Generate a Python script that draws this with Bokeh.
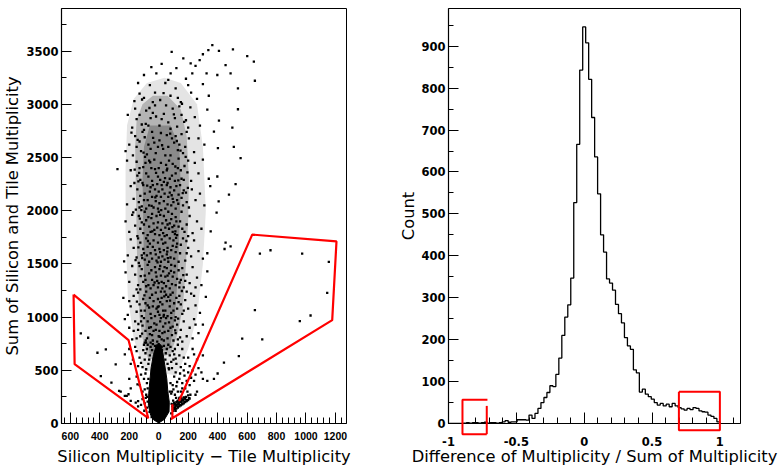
from bokeh.plotting import figure
from bokeh.layouts import row
from bokeh.models import SingleIntervalTicker, CustomJSTickFormatter, Range1d
from bokeh.embed import file_html
from bokeh.resources import INLINE
import numpy as np

# ---------------- left panel data ----------------
cloud_points = [
    # y 0-250
    (-48,60),(-62,110),(-80,150),(-95,190),(-110,230),(-75,205),(-88,240),(-98,120),(-120,175),
    (-140,210),(-190,212),(-140,160),(-156,197),(-230,260),
    (85,95),(95,130),(110,150),(120,170),(135,185),(150,200),(165,215),(180,230),(125,205),(140,228),
    (100,175),(115,120),(130,160),(145,175),(160,190),(175,205),(190,220),(205,238),(155,235),(170,245),
    (118,240),(88,185),(98,215),(92,160),(105,195),
    (100,120),(110,135),(120,140),(130,150),(140,160),(150,170),(160,180),(170,190),(180,200),(190,210),
    (200,220),(210,235),(105,150),(115,165),(125,180),(135,195),(145,205),(155,215),(165,225),(175,240),
    (120,200),(130,215),(110,185),(100,170),(95,140),(140,240),(150,250),(185,250),(200,265),(215,270),
    # y 250-500
    (-85,270),(-95,320),(-110,300),(-130,360),(-144,368),(-190,330),(-217,259),(-269,306),(-100,420),
    (-120,460),(-150,440),(-80,380),(-90,470),(-200,420),(-321,384),(-75,330),(-78,250),(-70,420),
    (85,280),(100,320),(120,350),(150,300),(180,330),(210,360),(240,400),(260,300),(300,420),(330,400),
    (375,420),(400,470),(250,270),(90,300),(110,270),(95,360),(130,300),(140,420),(160,380),(175,450),
    (190,400),(200,480),(220,430),(230,500),(160,330),(125,390),(105,440),(115,480),(145,470),(170,500),
    (250,460),(290,480),(195,300),(75,300),(80,380),(68,520),
    # y 500-750
    (-85,510),(-70,560),(-95,600),(-60,640),(-80,700),(-110,530),(-130,620),(-150,680),(-100,740),
    (-120,570),(-175,600),(-200,700),(-230,650),(-55,720),(-45,690),(-65,600),(45,600),(60,560),
    (75,640),(90,520),(100,600),(110,700),(80,720),(55,700),(120,560),(140,640),(160,700),(180,560),
    (200,620),(230,700),(260,600),(300,640),(130,740),(95,680),(70,510),(150,530),(-90,660),(-140,540),
    (-40,745),(35,730),(20,720),(0,745),(-25,730),(65,740),(85,580),(105,650),(170,620),(210,540),
    (240,650),(115,610),(-105,690),(-75,740),(-160,720),(-190,560),(-292,556),(270,520),
    # y 750-1000
    (-95,760),(-80,800),(-60,840),(-40,780),(-20,880),(0,820),(20,790),(40,860),(60,800),(80,900),
    (100,780),(115,850),(-110,920),(-75,960),(-50,990),(-30,940),(-10,770),(10,960),(30,910),(50,990),
    (70,950),(90,830),(110,970),(-90,870),(-65,900),(-125,820),(-140,880),(-160,960),(-180,790),
    (-200,900),(-230,980),(130,790),(150,880),(170,960),(190,820),(210,900),(240,980),(270,850),
    (300,930),(125,930),(145,810),(-45,830),(-15,930),(5,870),(25,850),(45,940),(65,870),(85,990),
    (-100,990),(-85,760),(-35,870),(15,990),(-55,760),(35,780),(95,910),(160,770),(-120,960),
    (-150,800),(-170,870),(230,800),(250,930),
    # y 1000-1250
    (-115,1010),(-95,1060),(-75,1110),(-55,1030),(-35,1150),(-15,1080),(5,1020),(25,1120),(45,1060),
    (65,1190),(85,1040),(105,1130),(125,1080),(140,1200),(-105,1170),(-85,1240),(-65,1090),(-45,1210),
    (-25,1010),(-5,1170),(15,1240),(35,1020),(55,1150),(75,1100),(95,1230),(115,1000),(135,1140),
    (-130,1120),(-150,1050),(-170,1200),(-190,1100),(-210,1020),(-240,1180),(160,1030),(180,1160),
    (200,1080),(220,1220),(250,1110),(280,1040),(320,1190),(-60,1180),(-20,1230),(0,1100),(20,1180),
    (40,1240),(60,1010),(80,1210),(100,1060),(-90,1130),(-140,1230),(150,1120),(170,1060),(190,1240),
    (-5,1050),(10,1140),(-40,1100),(30,1060),(50,1210),(120,1180),(-120,1060),(240,1200),(-200,1150),
    # y 1250-1500
    (-125,1260),(-105,1330),(-85,1290),(-65,1410),(-45,1350),(-25,1470),(-5,1280),(15,1390),(35,1320),
    (55,1460),(75,1270),(95,1380),(115,1300),(135,1440),(150,1350),(-115,1450),(-95,1390),(-75,1490),
    (-55,1270),(-35,1300),(-15,1380),(5,1450),(25,1270),(45,1380),(65,1340),(85,1490),(105,1420),
    (125,1360),(-140,1300),(-160,1400),(-180,1480),(-200,1330),(-225,1420),(170,1280),(190,1400),
    (210,1320),(230,1470),(260,1370),(290,1300),(330,1430),(-50,1440),(-10,1340),(10,1480),(30,1430),
    (50,1290),(70,1410),(90,1310),(110,1480),(-90,1350),(-130,1480),(-70,1300),(160,1460),(180,1340),
    (-20,1420),(0,1320),(20,1330),(40,1470),(60,1390),(140,1280),(-150,1260),(250,1280),
    # y 1500-1750
    (-135,1510),(-115,1580),(-95,1540),(-75,1660),(-55,1600),(-35,1720),(-15,1530),(5,1640),(25,1570),
    (45,1700),(65,1520),(85,1630),(105,1550),(125,1690),(145,1600),(165,1740),(-125,1700),(-105,1640),
    (-85,1740),(-65,1520),(-45,1550),(-25,1630),(-5,1700),(15,1520),(35,1630),(55,1590),(75,1740),
    (95,1670),(115,1610),(135,1520),(-150,1560),(-170,1650),(-190,1730),(-210,1580),(-235,1524),
    (180,1530),(200,1650),(220,1570),(240,1720),(270,1620),(300,1550),(330,1600),(454,1700),
    (-60,1690),(-20,1590),(0,1560),(20,1730),(40,1540),(60,1650),(80,1560),(100,1720),(120,1660),
    (-100,1600),(-140,1740),(150,1680),(190,1600),(-40,1660),(10,1610),(30,1690),(-80,1580),
    # y 1750-2000
    (-145,1760),(-125,1830),(-105,1790),(-85,1910),(-65,1850),(-45,1970),(-25,1780),(-5,1890),
    (15,1820),(35,1950),(55,1770),(75,1880),(95,1800),(115,1940),(135,1850),(155,1990),(175,1800),
    (-135,1950),(-115,1890),(-95,1990),(-75,1770),(-55,1800),(-35,1880),(-15,1950),(5,1770),(25,1880),
    (45,1840),(65,1990),(85,1920),(105,1860),(125,1770),(145,1900),(-160,1860),(-180,1960),(-200,1800),
    (-225,1900),(190,1870),(210,1950),(230,1790),(260,1900),(290,1830),(353,1806),(393,1981),
    (-50,1930),(-10,1840),(10,1960),(30,1790),(50,1910),(70,1830),(90,1970),(110,1780),(-100,1870),
    (-70,1940),(160,1830),(200,1760),(-30,1820),(0,1990),(40,1760),(60,1870),(120,1900),
    # y 2000-2250
    (-155,2010),(-135,2080),(-115,2040),(-95,2160),(-75,2100),(-55,2220),(-35,2030),(-15,2140),
    (5,2070),(25,2200),(45,2020),(65,2130),(85,2050),(105,2190),(125,2100),(145,2240),(165,2050),
    (185,2170),(-145,2200),(-125,2140),(-105,2240),(-85,2020),(-65,2050),(-45,2130),(-25,2200),
    (-5,2020),(15,2130),(35,2090),(55,2240),(75,2170),(95,2110),(115,2020),(135,2150),(155,2120),
    (-170,2110),(-190,2230),(-215,2060),(205,2030),(225,2200),(250,2100),(280,2160),(310,2050),
    (350,2230),(407,2087),(477,2150),(-60,2180),(-20,2090),(20,2240),(40,2160),(60,2060),(80,2220),
    (100,2080),(-100,2100),(-40,2240),(0,2180),(120,2230),(170,2190),(-130,2030),(190,2080),
    # y 2250-2500
    (-165,2260),(-145,2330),(-125,2290),(-105,2410),(-85,2350),(-65,2470),(-45,2280),(-25,2390),
    (-5,2320),(15,2450),(35,2270),(55,2380),(75,2300),(95,2440),(115,2350),(135,2490),(155,2300),
    (175,2420),(195,2360),(-150,2460),(-110,2260),(-70,2320),(-30,2480),(10,2290),(50,2430),(90,2330),
    (130,2400),(170,2290),(-190,2380),(-215,2470),(-280,2390),(220,2280),(245,2450),(270,2350),
    (300,2480),(340,2300),(398,2321),(522,2250),(556,2494),(-50,2400),(-10,2250),(30,2360),(70,2470),
    (110,2280),(150,2380),(-130,2400),(-90,2450),(0,2400),(60,2260),(200,2470),
    # y 2500-2750
    (-175,2520),(-150,2600),(-120,2560),(-95,2690),(-70,2620),(-45,2740),(-20,2540),(5,2660),(30,2580),
    (55,2710),(80,2520),(105,2640),(130,2570),(155,2720),(180,2600),(205,2680),(-160,2700),(-130,2650),
    (-80,2530),(-30,2640),(15,2730),(65,2600),(115,2700),(165,2540),(-200,2620),(-225,2560),(240,2550),
    (270,2680),(310,2620),(375,2743),(402,2587),(510,2600),(-185,2734),(-55,2580),(45,2520),(90,2680),
    (140,2620),(-110,2740),(-5,2600),(190,2740),
    # y 2750-3000
    (-180,2780),(-150,2860),(-115,2810),(-85,2940),(-55,2870),(-25,2990),(5,2800),(35,2910),(65,2830),
    (95,2960),(125,2790),(155,2900),(185,2850),(215,2970),(-160,2960),(-100,2760),(-40,2920),(20,2860),
    (80,2770),(140,2980),(200,2780),(-210,2900),(245,2880),(280,2800),(330,2950),(409,2846),(500,2781),
    (538,2953),(-130,2900),(50,2990),(110,2870),(-70,2800),
    # y 3000-3300
    (-165,3030),(-130,3100),(-100,3060),(-60,3180),(-25,3110),(10,3040),(45,3200),(80,3080),(115,3150),
    (150,3020),(185,3240),(220,3110),(260,3050),(300,3190),(340,3080),(-140,3200),(-40,3020),(65,3230),
    (130,3060),(200,3180),(-100,3275),(-16,3290),(81,3290),(228,3290),(325,3290),(398,3275),(488,3290),
    (538,3150),(653,3221),
    # y above 3300
    (88,3493),(364,3556),(337,3509),(409,3502),(504,3516),(601,3453),(646,3400),(167,3431),(217,3384),
    (278,3415),(454,3368),(20,3380),(120,3340),(250,3360),(-50,3350),(300,3470),
    # more scattered points in the band
    (-12,640),(22,690),(-33,610),(48,660),(-88,780),(7,815),(-53,905),(33,1005),(-97,1205),(77,1155),
    (-122,1385),(142,1325),(-8,1515),(62,1555),(-138,1655),(118,1745),(-43,1805),(93,1845),(-118,2005),
    (133,2065),(-23,2125),(163,2165),(-78,2235),(43,2305),(-133,2355),(113,2415),(-58,2455),(183,2505),
    (-103,2545),(23,2615),(-143,2665),(78,2725),(-88,2815),(173,2835),(-18,2885),(103,2905),(-63,2965),
    (158,3005),(-113,3045),(33,3105),(-7,1095),(38,1195),(-28,1325),(83,1435),(-112,1555),(58,1615),
    (-73,1715),(113,1805),(-128,1925),(17,2005),(-48,2045),(88,2145),(-138,2275),(133,2285),(-18,2355),
    (58,2395),(-93,2505),(148,2565),(-38,2685),(123,2655),(-163,2385),(198,2215),(-173,1985),(188,1715),
    (-157,1535),(167,1395),(-148,1145),(157,1245),(-138,935),(132,985),(-113,845),(112,875),
    # inside the gates
    (-529,847),(-479,806),(-416,665),(-359,697),(-393,446),(-258,300),(-205,275),
    (687,1597),(759,1628),(974,1597),(1155,1519),(1144,1228),(1031,1015),(958,962),(653,1065),
    (703,790),(567,797),(544,634),(443,572),(488,1665),(447,1640),
]
cloud_x = [pt[0] for pt in cloud_points]
cloud_y = [pt[1] for pt in cloud_points]

# envelopes of the grey band, from its sparse fringe to its dense middle
band_fringe_x = [-100, -170, -210, -225, -225, -215, -170, -80, 40, 150, 260, 300, 320, 300, 260, 200, 120]
band_fringe_y = [500, 800, 1200, 1800, 2400, 2800, 3050, 3200, 3250, 3200, 3000, 2600, 2000, 1500, 1000, 700, 450]
band_outer_x = [-70, -110, -130, -145, -150, -155, -160, -150, -110, -40, 60, 150, 190, 205, 200, 185, 165, 130, 80]
band_outer_y = [600, 800, 1000, 1400, 1800, 2200, 2600, 2850, 3000, 3080, 3080, 2950, 2700, 2300, 1900, 1500, 1100, 850, 650]
band_inner_x = [-60, -90, -100, -105, -110, -100, -60, 80, 140, 150, 140, 130, 110, 75]
band_inner_y = [650, 900, 1400, 1900, 2300, 2600, 2800, 2800, 2600, 2200, 1800, 1400, 1000, 700]

# saturated (solid black) core of the distribution
core_x = [0, 40, 70, 72, 62, 55, 42, 30, 15, -15, -35, -52, -60, -68, -70, -55, -35]
core_y = [5, 40, 110, 200, 300, 420, 540, 650, 740, 740, 650, 520, 400, 280, 170, 80, 35]

# red gates
gate_left_x = [-578, -205, -71, -571, -578]
gate_left_y = [1212, 784, 50, 557, 1212]
gate_right_x = [93, 93, 81, 1178, 1207, 635, 138]
gate_right_y = [181, 50, 40, 971, 1712, 1775, 212]

# ---------------- right panel data ----------------
hist_counts = [
    0, 0, 0, 0, 0,
    1, 2, 1, 2, 2,
    1, 2, 3, 1, 2,
    2, 1, 2, 4, 7,
    3, 4, 4, 9, 9,
    9, 8, 20, 12, 24,
    36, 50, 62, 74, 90,
    88, 117, 156, 210, 254,
    283, 347, 527, 666, 843,
    946, 908, 821, 730, 636,
    548, 450, 409, 345, 335,
    318, 284, 262, 240, 205,
    185, 177, 128, 121, 75,
    82, 70, 64, 58, 50,
    44, 48, 42, 46, 40,
    48, 42, 38, 35, 32,
    36, 33, 38, 36, 30,
    28, 27, 20, 17, 12,
    4,
]
hist_lo, hist_hi = -1.0, 1.0

box_a_x = [-0.713, -0.897, -0.897, -0.718, -0.718]
box_a_y = [56.6, 56.6, -25.5, -25.5, 42]
box_b_x = [0.698, 1.0, 1.0, 0.698, 0.698]
box_b_y = [75.6, 75.6, -16, -16, 75.6]

# ---------------- styling helpers ----------------
TICK_FONT = "DejaVu Sans"
TITLE_FONT = "DejaVu Sans"


def style_common(p):
    p.xgrid.visible = False
    p.ygrid.visible = False
    p.outline_line_color = "black"
    p.outline_line_width = 1
    p.background_fill_color = "white"
    p.border_fill_color = "white"
    for ax in (p.xaxis, p.yaxis):
        ax.axis_line_color = "black"
        ax.axis_line_width = 1.2
        ax.major_tick_line_color = "black"
        ax.minor_tick_line_color = "black"
        ax.major_tick_out = 0
        ax.minor_tick_out = 0
        ax.axis_label_text_font = TITLE_FONT
        ax.axis_label_text_font_size = "16.3px"
        ax.axis_label_text_font_style = "normal"
        ax.axis_label_text_color = "black"
        ax.major_label_text_color = "black"
        ax.major_label_text_font_style = "bold"
    p.xaxis.major_tick_in = 11
    p.xaxis.minor_tick_in = 6
    p.yaxis.major_tick_in = 10
    p.yaxis.minor_tick_in = 5
    p.yaxis.major_label_text_font = TICK_FONT
    p.yaxis.major_label_text_font_size = "11.5px"
    p.yaxis.major_label_standoff = 3


# ---------------- left figure ----------------
p1 = figure(width=396, height=468, output_backend="svg", toolbar_location=None,
            x_range=Range1d(-660, 1275), y_range=Range1d(0, 3900),
            min_border_left=61, min_border_right=50, min_border_top=8, min_border_bottom=44)
style_common(p1)
p1.xaxis.ticker = SingleIntervalTicker(interval=200, num_minor_ticks=5)
p1.yaxis.ticker = SingleIntervalTicker(interval=500, num_minor_ticks=2)
p1.xaxis.formatter = CustomJSTickFormatter(code="return Math.abs(tick).toString();")
p1.xaxis.major_label_text_font = "Liberation Sans"
p1.xaxis.major_label_text_font_size = "10.5px"
p1.xaxis.major_label_standoff = 8
p1.xaxis.axis_label = "Silicon Multiplicity \u2212 Tile Multiplicity"
p1.xaxis.axis_label_standoff = 4
p1.yaxis.axis_label = "Sum of Silicon and Tile Multiplicity"
p1.yaxis.axis_label_standoff = 1

p1.patch(band_fringe_x, band_fringe_y, fill_color="#e4e4e4", line_color=None)
p1.patch(band_outer_x, band_outer_y, fill_color="#b4b4b4", line_color=None)
p1.patch(band_inner_x, band_inner_y, fill_color="#8a8a8a", line_color=None)
p1.patch(core_x, core_y, fill_color="black", line_color="black", line_width=1)
p1.scatter(cloud_x, cloud_y, marker="square", size=2.3, fill_color="black",
           line_color=None)
p1.line(gate_left_x, gate_left_y, line_color="#ff0000", line_width=2.2)
p1.line(gate_right_x, gate_right_y, line_color="#ff0000", line_width=2.2)

# ---------------- right figure ----------------
p2 = figure(width=385, height=468, output_backend="svg", toolbar_location=None,
            x_range=Range1d(-1.0, 1.152), y_range=Range1d(0, 990),
            min_border_left=52, min_border_right=41, min_border_top=8, min_border_bottom=44)
style_common(p2)
p2.xaxis.ticker = SingleIntervalTicker(interval=0.5, num_minor_ticks=5)
p2.yaxis.ticker = SingleIntervalTicker(interval=100, num_minor_ticks=2)
p2.xaxis.formatter = CustomJSTickFormatter(code="return tick.toString();")
p2.xaxis.major_label_text_font = TICK_FONT
p2.xaxis.major_label_text_font_size = "11.5px"
p2.xaxis.major_label_standoff = 13
p2.xaxis.axis_label = "Difference of Multiplicity / Sum of Multiplicity"
p2.xaxis.axis_label_standoff = -2
p2.yaxis.axis_label = "Count"
p2.yaxis.axis_label_standoff = 0

edges = np.linspace(hist_lo, hist_hi, len(hist_counts) + 1)
step_y = list(hist_counts) + [0]
p2.step(edges, step_y, mode="after", line_color="black", line_width=1.3)
p2.line(box_a_x[:4], box_a_y[:4], line_color="#ff0000", line_width=2, level="overlay")
p2.line(box_a_x[3:], box_a_y[3:], line_color="#ff0000", line_width=2, level="overlay")
p2.line(box_b_x, box_b_y, line_color="#ff0000", line_width=2, level="overlay")

layout = row(p1, p2)
open("out.html", "w").write(file_html(layout, INLINE))
